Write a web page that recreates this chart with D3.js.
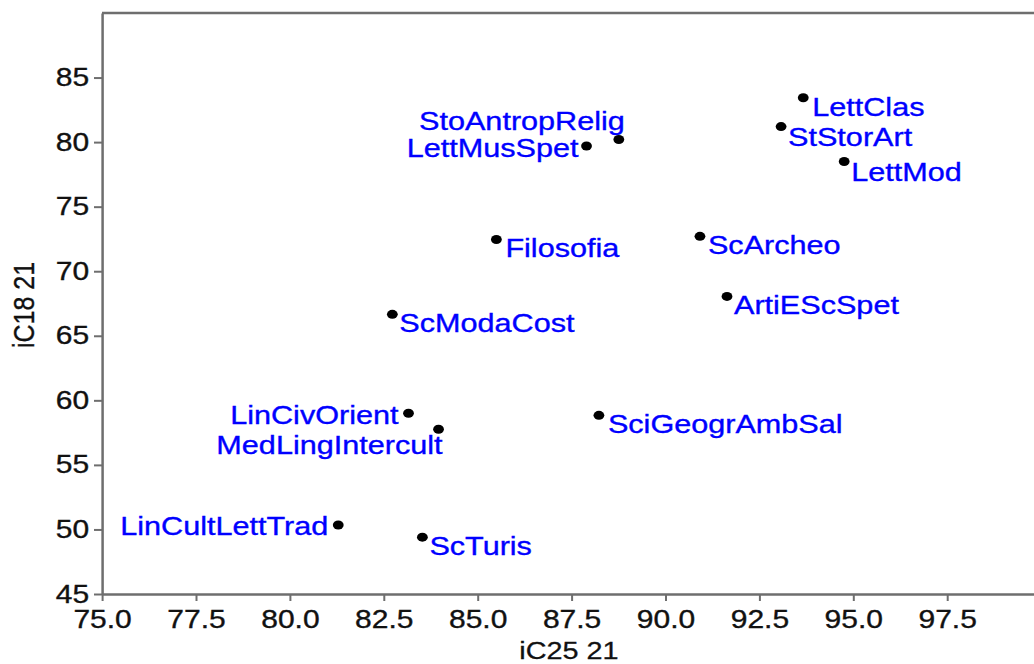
<!DOCTYPE html>
<meta charset="utf-8">
<style>
body { margin: 0; background: #fff; }
svg text { font-family: "Liberation Sans", Arial, Helvetica, sans-serif; }
.axis path, .axis line { stroke: #6e6e6e; vector-effect: non-scaling-stroke; }
.axis path { stroke-width: 2.5px; }
.axis line { stroke-width: 2px; }
.axis text { fill: #111; font-size: 25px; stroke: #111; stroke-width: 0.35px; }
.label { fill: #0000ff; font-size: 25.5px; stroke: #0000ff; stroke-width: 0.35px; }
.title { fill: #111; font-size: 24px; stroke: #111; stroke-width: 0.3px; }
</style>
<body>
<div id="chart"></div>
<script src="https://d3js.org/d3.v7.min.js"></script>
<script>

// study programmes, iC25 21 (x) against iC18 21 (y)
var names = ["LettClas", "StStorArt", "LettMod", "StoAntropRelig", "LettMusSpet",
  "Filosofia", "ScArcheo", "ArtiEScSpet", "ScModaCost", "LinCivOrient",
  "MedLingIntercult", "SciGeogrAmbSal", "LinCultLettTrad", "ScTuris"];
var ic25 = [93.67, 93.08, 94.76, 88.76, 87.9, 85.5, 90.92, 91.64, 82.73, 83.16, 83.96, 88.23, 81.29, 83.53];
var ic18 = [83.44, 81.2, 78.5, 80.2, 79.7, 72.46, 72.7, 68.05, 66.66, 59.0, 57.76, 58.84, 50.34, 49.4];

var xTicks = [75, 77.5, 80, 82.5, 85, 87.5, 90, 92.5, 95, 97.5];
var yTicks = [45, 50, 55, 60, 65, 70, 75, 80, 85];

// where each label sits next to its dot (screen px)
var placement = {
  LettClas: [9, 18, "start"],
  StStorArt: [7, 19, "start"],
  LettMod: [7, 20, "start"],
  StoAntropRelig: [6, -10, "end"],
  LettMusSpet: [-8, 11, "end"],
  Filosofia: [9, 18, "start"],
  ScArcheo: [8, 18, "start"],
  ArtiEScSpet: [7, 18, "start"],
  ScModaCost: [7, 18, "start"],
  LinCivOrient: [-10, 11, "end"],
  MedLingIntercult: [4, 25, "end"],
  SciGeogrAmbSal: [9, 18, "start"],
  LinCultLettTrad: [-10, 10, "end"],
  ScTuris: [7, 18, "start"]
};

// the picture is stretched sideways, so draw in a narrower box and let the viewBox widen it
var sx = 1.2;
var W = 1034 / sx, H = 664;

var svg = d3.select("#chart").append("svg")
  .attr("width", 1034)
  .attr("height", 664)
  .attr("viewBox", "0 0 " + W + " " + H)
  .attr("preserveAspectRatio", "none");

var x = d3.scaleLinear().domain([75, 100]).range([102 / sx, 1041 / sx]);
var y = d3.scaleLinear().domain([45, 90]).range([594, 13]);

// top frame line
svg.append("line")
  .attr("class", "frame")
  .attr("x1", x(75)).attr("x2", W)
  .attr("y1", y(90)).attr("y2", y(90))
  .style("stroke", "#6e6e6e").style("stroke-width", "2.5px")
  .style("vector-effect", "non-scaling-stroke");

svg.append("g")
  .attr("class", "axis")
  .attr("transform", "translate(0," + y(45) + ")")
  .call(d3.axisBottom(x).tickValues(xTicks).tickFormat(d3.format(".1f"))
    .tickSize(7).tickSizeOuter(0).tickPadding(9));

svg.append("g")
  .attr("class", "axis")
  .attr("transform", "translate(" + x(75) + ",0)")
  .call(d3.axisLeft(y).tickValues(yTicks).tickSize(8 / sx).tickSizeOuter(0).tickPadding(4));

var pts = names.map(function(n, i) { return { name: n, x: ic25[i], y: ic18[i] }; });

svg.selectAll(".dot")
  .data(pts)
  .enter().append("circle")
    .attr("class", "dot")
    .attr("cx", function(d) { return x(d.x); })
    .attr("cy", function(d) { return y(d.y); })
    .attr("r", 4.5)
    .style("fill", "#000");

svg.selectAll(".label")
  .data(pts)
  .enter().append("text")
    .attr("class", "label")
    .attr("x", function(d) { return x(d.x) + placement[d.name][0] / sx; })
    .attr("y", function(d) { return y(d.y) + placement[d.name][1]; })
    .attr("text-anchor", function(d) { return placement[d.name][2]; })
    .text(function(d) { return d.name; });

// axis titles
svg.append("text")
  .attr("class", "title")
  .attr("x", 569 / sx)
  .attr("y", 659)
  .attr("text-anchor", "middle")
  .text("iC25 21");

svg.append("text")
  .attr("class", "title")
  .attr("transform", "translate(" + (34 / sx) + "," + 305 + ") rotate(-90)")
  .attr("text-anchor", "middle")
  .style("font-size", "25px")
  .text("iC18 21");

</script>
</body>
